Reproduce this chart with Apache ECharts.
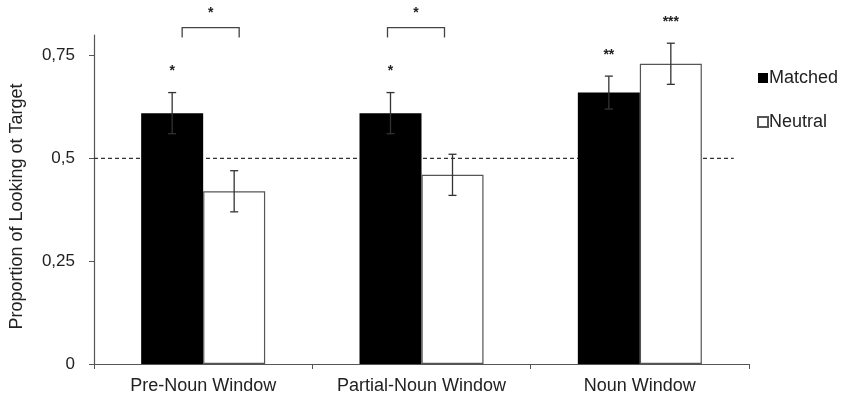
<!DOCTYPE html>
<html>
<head>
<meta charset="utf-8">
<script src="https://cdn.jsdelivr.net/npm/echarts@6/dist/echarts.min.js"></script>
<style>
html,body{margin:0;padding:0;background:#fff;}
#chart{width:843px;height:400px;}
</style>
</head>
<body>
<div id="chart"></div>
<script>
// ---- data ----
var categories = ['Pre-Noun Window', 'Partial-Noun Window', 'Noun Window'];
var seriesNames = ['Matched', 'Neutral'];
var matched = [0.61, 0.61, 0.66];
var neutral = [0.42, 0.46, 0.73];
var matchedErr = [0.05, 0.05, 0.04];
var neutralErr = [0.05, 0.05, 0.05];
var matchedSig = ['*', '*', '**'];
var neutralSig = ['', '', '***'];
var pairSig = ['*', '*'];           // Matched vs Neutral, per category index
var pairSigLevel = [0.818, 0.818];  // bracket height (value units)
var chanceLevel = 0.5;
var yTickValues = [0, 0.25, 0.5, 0.75];
var yTickLabels = ['0', '0,25', '0,5', '0,75'];
var yAxisTitle = 'Proportion of Looking ot Target';

// ---- layout constants ----
var FONT = "'Liberation Sans', Arial, sans-serif";
var BAR_W = 62;
var bracketSpan = [[-21, 36], [-34, 23]]; // px offsets from category center
var CHANCE_END = 0.43; // chance line ends this fraction of a category past the last center

var chart = echarts.init(document.getElementById('chart'), null, {renderer: 'canvas'});

function errSeries(vals, errs, sigs, offset) {
  var data = vals.map(function (v, i) { return [i, v, errs[i], sigs[i]]; });
  return {
    type: 'custom',
    silent: true,
    clip: false,
    z: 5,
    encode: {x: 0, y: 1},
    data: data,
    renderItem: function (params, api) {
      var i = api.value(0), v = api.value(1), e = api.value(2);
      var sig = data[params.dataIndex][3];
      var top = api.coord([i, v + e]);
      var bot = api.coord([i, v - e]);
      var x = top[0] + offset;
      var st = {stroke: '#333', lineWidth: 1.3};
      var children = [
        {type: 'line', shape: {x1: x, y1: top[1], x2: x, y2: bot[1]}, style: st},
        {type: 'line', shape: {x1: x - 4, y1: top[1], x2: x + 4, y2: top[1]}, style: st},
        {type: 'line', shape: {x1: x - 4, y1: bot[1], x2: x + 4, y2: bot[1]}, style: st}
      ];
      if (sig) {
        children.push({type: 'text', style: {
          text: sig, x: x, y: top[1] - 21, align: 'center', verticalAlign: 'middle',
          font: 'bold 14px ' + FONT, fill: '#222'
        }});
      }
      return {type: 'group', children: children};
    }
  };
}

var bracketData = pairSig.map(function (s, i) { return [i, pairSigLevel[i], s]; });

var option = {
  animation: false,
  backgroundColor: '#fff',
  textStyle: {fontFamily: FONT},
  grid: {left: 92, right: 94, top: 35, bottom: 36, containLabel: false},
  legend: {
    data: seriesNames,
    orient: 'vertical',
    left: 752, top: 64,
    itemWidth: 10, itemHeight: 10, itemGap: 26,
    icon: 'rect',
    textStyle: {fontSize: 18, color: '#222', fontFamily: FONT, padding: [0, 0, 0, -4]}
  },
  xAxis: {
    type: 'category',
    data: categories,
    boundaryGap: true,
    axisLine: {lineStyle: {color: '#555', width: 1.2}},
    axisTick: {show: true, length: 5, alignWithLabel: false, lineStyle: {color: '#555'}},
    axisLabel: {fontSize: 18, color: '#222', margin: 13, fontFamily: FONT, interval: 0},
    splitLine: {show: false}
  },
  yAxis: {
    type: 'value',
    min: 0, max: 0.8,
    name: yAxisTitle,
    nameLocation: 'middle',
    nameRotate: 90,
    nameGap: 68,
    nameTextStyle: {fontSize: 18, color: '#222', fontFamily: FONT, padding: [0, 14, 0, 0]},
    axisLine: {show: true, lineStyle: {color: '#555', width: 1.2}},
    axisTick: {show: true, length: 5, customValues: yTickValues, lineStyle: {color: '#555'}},
    axisLabel: {
      fontSize: 17, color: '#222', margin: 19, fontFamily: FONT,
      customValues: yTickValues,
      formatter: function (val) {
        var k = yTickValues.indexOf(Math.round(val * 100) / 100);
        return k >= 0 ? yTickLabels[k] : '';
      }
    },
    splitLine: {show: false}
  },
  series: [
    {
      name: seriesNames[0], type: 'bar', data: matched,
      barWidth: BAR_W, barGap: '0%',
      itemStyle: {color: '#000', borderWidth: 0},
      z: 2
    },
    {
      name: seriesNames[1], type: 'bar', data: neutral,
      barWidth: BAR_W, barGap: '0%',
      itemStyle: {color: '#fff', borderColor: '#555', borderWidth: 1.2},
      z: 2
    },
    {
      type: 'custom',
      silent: true,
      clip: false,
      z: 1,
      encode: {x: 0, y: 1},
      data: [[categories.length - 1, chanceLevel]],
      renderItem: function (params, api) {
        var last = api.coord([api.value(0), api.value(1)]);
        var first = api.coord([0, api.value(1)]);
        var w = api.size([1, 0])[0];
        return {type: 'line',
          shape: {x1: first[0] - w / 2, y1: last[1], x2: last[0] + w * CHANCE_END, y2: last[1]},
          style: {stroke: '#333', lineWidth: 1.3, lineDash: [4, 3]}};
      }
    },
    errSeries(matched, matchedErr, matchedSig, -BAR_W / 2),
    errSeries(neutral, neutralErr, neutralSig, BAR_W / 2),
    {
      type: 'custom',
      silent: true,
      clip: false,
      encode: {x: 0, y: 1},
      data: bracketData,
      renderItem: function (params, api) {
        var i = api.value(0);
        var p = api.coord([i, api.value(1)]);
        var span = bracketSpan[params.dataIndex];
        var x1 = p[0] + span[0], x2 = p[0] + span[1], y = p[1];
        return {type: 'group', children: [
          {type: 'polyline', shape: {points: [[x1, y + 10], [x1, y], [x2, y], [x2, y + 10]]},
           style: {stroke: '#444', lineWidth: 1.3, fill: null}},
          {type: 'text', style: {text: bracketData[params.dataIndex][2], x: (x1 + x2) / 2, y: y - 14,
            align: 'center', verticalAlign: 'middle', font: 'bold 14px ' + FONT, fill: '#222'}}
        ]};
      }
    }
  ]
};
chart.setOption(option);
</script>
</body>
</html>
